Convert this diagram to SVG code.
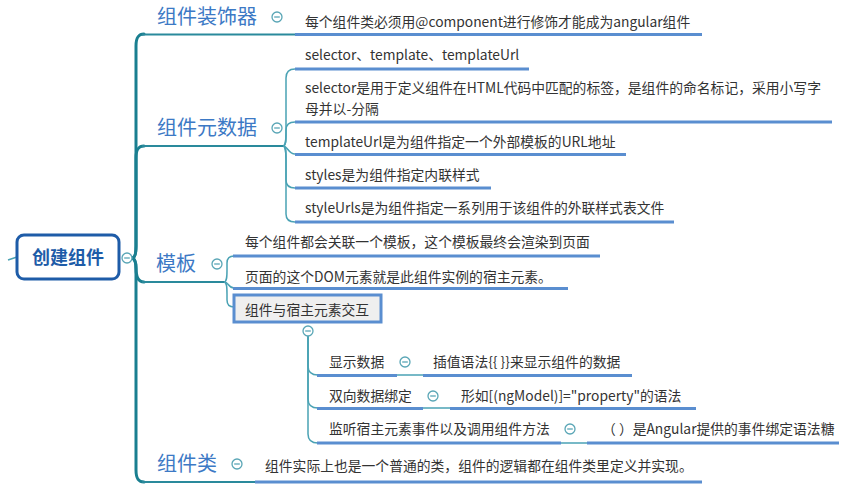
<svg xmlns="http://www.w3.org/2000/svg" width="855" height="502" viewBox="0 0 855 502">
<style>
.bg{fill:#ffffff}
.trunk{fill:none;stroke:#1a7f90;stroke-width:3;stroke-linecap:round}
.br{fill:none;stroke:#2a8a9c;stroke-width:2}
.cn{fill:none;stroke:#4aa2b4;stroke-width:1.5}
.ul{fill:none;stroke:#5a8ed0;stroke-width:3}
.tog circle{fill:#ffffff;stroke:#5aa6b6;stroke-width:1.3}
.tog line{stroke:#5aa6b6;stroke-width:1.3}
.main{font-family:"Noto Sans CJK SC","Noto Sans",sans-serif;font-size:20px;fill:#3c79c5}
.leaf{font-family:"Noto Sans CJK SC","Noto Sans",sans-serif;font-size:13.8px;fill:#333333}
.root{font-family:"Noto Sans CJK SC","Noto Sans",sans-serif;font-size:18px;font-weight:bold;fill:#1e5ca8}
</style>
<defs>
<g id="tg" class="tog"><circle cx="0" cy="0" r="5"/><line x1="-2.8" y1="0" x2="2.8" y2="0"/></g>
</defs>
<rect class="bg" x="0" y="0" width="855" height="502"/>

<g id="connectors">
<path class="cn" d="M8,260 L17,257"/>
<path class="trunk" d="M132,258 C135,258 136,254 136,246 L136,46 C136,38 138,34 144,34"/>
<path class="trunk" d="M132,258 C135,258 136,254 136,246 L136,158 C136,150 138,146 144,146"/>
<path class="trunk" d="M132,258 C135,259 136,262 136,268 C136,276 138,282 144,282"/>
<path class="trunk" d="M132,258 C135,258 136,262 136,270 L136,470 C136,478 138,482 144,482"/>
<path class="br" d="M142,34.5 L295,34.5"/>
<path class="br" d="M142,146 L284,146"/>
<path class="br" d="M142,282 L225,282"/>
<path class="br" d="M142,482 L256,482"/>
<path class="cn" d="M283,146 C286,146 286,140 286,132 L286,78 C286,72 289,69 295,69"/>
<path class="cn" d="M283,146 C286,146 286,140 286,134 L286,130 C286,125 289,122 295,122"/>
<path class="cn" d="M283,146 C288,146 288,154 295,154"/>
<path class="cn" d="M283,146 C286,146 286,152 286,160 L286,180 C286,185 289,188 295,188"/>
<path class="cn" d="M283,146 C286,146 286,152 286,160 L286,214 C286,219 289,222 295,222"/>
<path class="cn" d="M224,282 C227,282 227,276 227,270 L227,263 C227,258 229,256 234,256"/>
<path class="cn" d="M224,282 C229,282 228,288 234,288"/>
<path class="cn" d="M224,282 C227,282 227,288 227,294 L227,300 C227,305 229,307 234,307"/>
<path class="cn" d="M308,336 L308,366 C308,372 311,375 318,375"/>
<path class="cn" d="M308,336 L308,399 C308,405 311,408 318,408"/>
<path class="cn" d="M308,336 L308,434 C308,440 311,443 318,443"/>
<path class="cn" d="M397,375 L424,375"/>
<path class="cn" d="M423,408 L451,408"/>
<path class="cn" d="M561,443 L588,443"/>
</g>

<g id="root">
<rect x="17" y="235" width="102" height="44" rx="7" fill="#ffffff" stroke="#1e5ca8" stroke-width="3"/>
<text class="root" x="68" y="264" text-anchor="middle">创建组件</text>
<use href="#tg" x="127" y="258"/>
</g>

<g id="n-decorator">
<text class="main" x="157" y="24">组件装饰器</text>
<use href="#tg" x="277" y="17"/>
</g>
<g id="n-decorator-1">
<text class="leaf" x="305" y="27">每个组件类必须用@component进行修饰才能成为angular组件</text>
<path class="ul" d="M295,34.5 L702,34.5"/>
</g>

<g id="n-metadata">
<text class="main" x="157" y="135">组件元数据</text>
<use href="#tg" x="277" y="128"/>
</g>
<g id="n-meta-1">
<text class="leaf" x="305" y="60">selector、template、templateUrl</text>
<path class="ul" d="M295,69 L529,69"/>
</g>
<g id="n-meta-2">
<text class="leaf" x="305" y="93"><tspan x="305" y="93">selector是用于定义组件在HTML代码中匹配的标签，是组件的命名标记，采用小写字</tspan><tspan x="305" y="114">母并以-分隔</tspan></text>
<path class="ul" d="M295,122 L832,122"/>
</g>
<g id="n-meta-3">
<text class="leaf" x="305" y="147">templateUrl是为组件指定一个外部模板的URL地址</text>
<path class="ul" d="M295,154.5 L626,154.5"/>
</g>
<g id="n-meta-4">
<text class="leaf" x="305" y="180">styles是为组件指定内联样式</text>
<path class="ul" d="M295,188 L491,188"/>
</g>
<g id="n-meta-5">
<text class="leaf" x="305" y="213">styleUrls是为组件指定一系列用于该组件的外联样式表文件</text>
<path class="ul" d="M295,222 L674,222"/>
</g>

<g id="n-template">
<text class="main" x="156" y="271">模板</text>
<use href="#tg" x="217" y="264"/>
</g>
<g id="n-tpl-1">
<text class="leaf" x="245" y="247">每个组件都会关联一个模板，这个模板最终会渲染到页面</text>
<path class="ul" d="M233,256 L600,256"/>
</g>
<g id="n-tpl-2">
<text class="leaf" x="245" y="282">页面的这个DOM元素就是此组件实例的宿主元素。</text>
<path class="ul" d="M233,288.5 L568,288.5"/>
</g>
<g id="n-tpl-3">
<rect x="234" y="295" width="147" height="27" fill="#efefef" stroke="#5a8ed0" stroke-width="3"/>
<text class="leaf" x="245" y="315">组件与宿主元素交互</text>
<use href="#tg" x="308" y="331"/>
</g>
<g id="n-show">
<text class="leaf" x="329" y="367">显示数据</text>
<path class="ul" d="M317,375.5 L397,375.5"/>
<use href="#tg" x="405" y="362"/>
</g>
<g id="n-show-1">
<text class="leaf" x="433" y="367">插值语法{{ }}来显示组件的数据</text>
<path class="ul" d="M423,375.5 L632,375.5"/>
</g>
<g id="n-bind">
<text class="leaf" x="329" y="401">双向数据绑定</text>
<path class="ul" d="M317,408.5 L423,408.5"/>
<use href="#tg" x="433" y="396"/>
</g>
<g id="n-bind-1">
<text class="leaf" x="461" y="401">形如[(ngModel)]="property"的语法</text>
<path class="ul" d="M450,408.5 L696,408.5"/>
</g>
<g id="n-event">
<text class="leaf" x="329" y="434">监听宿主元素事件以及调用组件方法</text>
<path class="ul" d="M317,443 L561,443"/>
<use href="#tg" x="570" y="429"/>
</g>
<g id="n-event-1">
<text class="leaf" x="602" y="434">（ ）是Angular提供的事件绑定语法糖</text>
<path class="ul" d="M587,443 L839,443"/>
</g>

<g id="n-class">
<text class="main" x="157" y="471">组件类</text>
<use href="#tg" x="237" y="464"/>
</g>
<g id="n-class-1">
<text class="leaf" x="265" y="471">组件实际上也是一个普通的类，组件的逻辑都在组件类里定义并实现。</text>
<path class="ul" d="M255,482 L702,482"/>
</g>
</svg>
